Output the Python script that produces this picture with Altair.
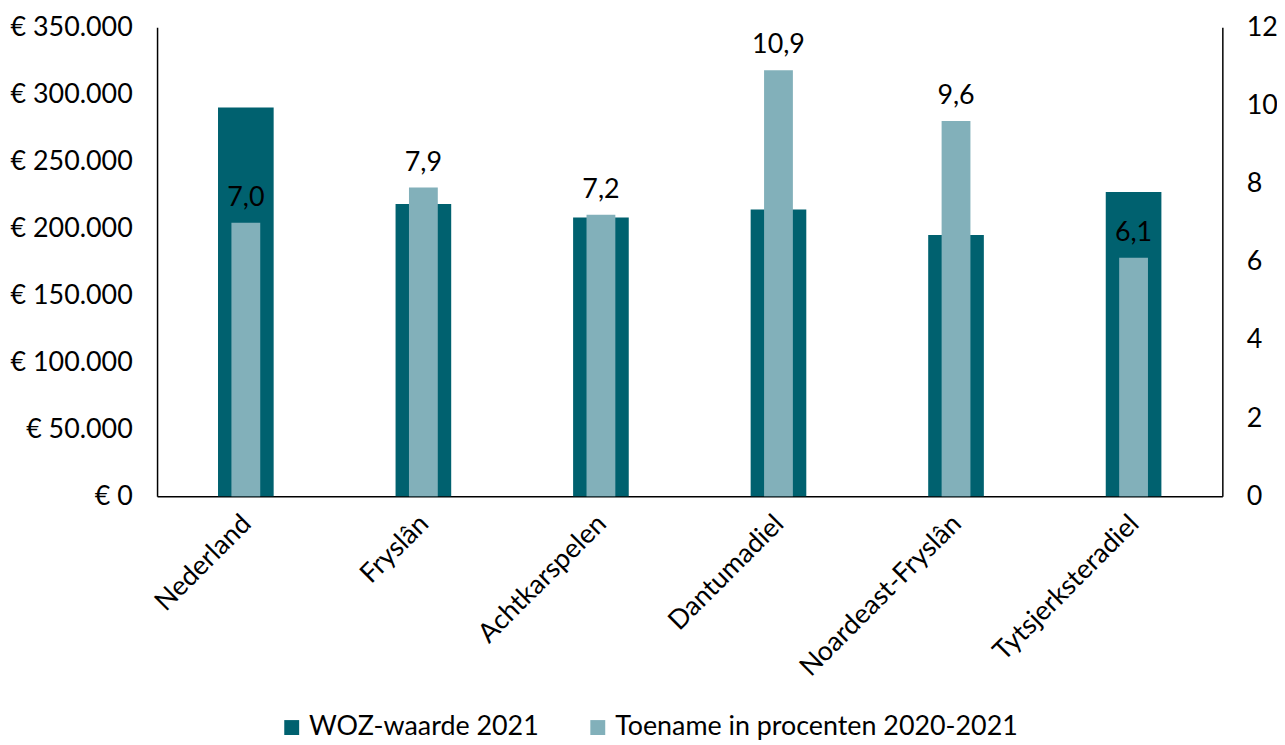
import altair as alt
import pandas as pd

categories = ["Nederland", "Fryslân", "Achtkarspelen", "Dantumadiel", "Noardeast-Fryslân", "Tytsjerksteradiel"]
woz_2021 = [290000, 218000, 208000, 214000, 195000, 227000]
toename_pct = [7.0, 7.9, 7.2, 10.9, 9.6, 6.1]
toename_labels = ["7,0", "7,9", "7,2", "10,9", "9,6", "6,1"]

series_names = ["WOZ-waarde 2021", "Toename in procenten 2020-2021"]
colors = ["#00616F", "#82B0BA"]
left_ticks = [0, 50000, 100000, 150000, 200000, 250000, 300000, 350000]
right_ticks = [0, 2, 4, 6, 8, 10, 12]

df = pd.DataFrame({
    "cat": categories,
    "woz": woz_2021,
    "pct": toename_pct,
    "lbl": toename_labels,
})

FONT = "Lato"
FS = 27

x_enc = alt.X("cat:N", sort=categories, title=None,
              scale=alt.Scale(paddingInner=0, paddingOuter=0),
              axis=alt.Axis(labelAngle=-45, labelAlign="right", labelBaseline="top",
                            labelPadding=14, labelOffset=-8, ticks=False, domainColor="black",
                            domainWidth=1.5, labelFontSize=FS, labelColor="black",
                            labelFont=FONT, labelLimit=0))

color_scale = alt.Scale(domain=series_names, range=colors)

right_y = alt.Y("pct:Q", title=None,
                scale=alt.Scale(domain=[0, 12], nice=False),
                axis=alt.Axis(orient="right", values=right_ticks, grid=False, ticks=False,
                              labelPadding=24, domainColor="black", domainWidth=1.5,
                              labelFontSize=FS, labelColor="black", labelFont=FONT))

dark = alt.Chart(df).mark_bar(size=56).encode(
    x=x_enc,
    y=alt.Y("woz:Q", title=None,
            scale=alt.Scale(domain=[0, 350000], nice=False),
            axis=alt.Axis(orient="left", values=left_ticks, grid=False, ticks=False,
                          labelPadding=25, domainColor="black", domainWidth=1.5,
                          labelFontSize=FS, labelColor="black", labelFont=FONT,
                          labelExpr="'€ ' + replace(format(datum.value, ',.0f'), ',', '.')")),
    color=alt.Color("s:N", scale=color_scale,
                    legend=alt.Legend(title=None, orient="none", direction="horizontal",
                                      legendX=122, legendY=691, symbolType="square",
                                      symbolSize=225, symbolStrokeWidth=0,
                                      labelFontSize=FS, labelFont=FONT, labelColor="black",
                                      labelLimit=0, columnPadding=45, labelOffset=4,
                                      padding=0)),
).transform_calculate(s="'WOZ-waarde 2021'")

light = alt.Chart(df).mark_bar(size=29).encode(
    x=alt.X("cat:N", sort=categories),
    y=right_y,
    color=alt.Color("s:N", scale=color_scale),
).transform_calculate(s="'Toename in procenten 2020-2021'")

text = alt.Chart(df).mark_text(baseline="alphabetic", dy=-17, fontSize=FS, font=FONT,
                               color="black").encode(
    x=alt.X("cat:N", sort=categories),
    y=right_y,
    text="lbl:N",
)

right_layer = alt.layer(light, text)

chart = alt.layer(dark, right_layer).resolve_scale(y="independent").properties(
    width=1072, height=472,
    autosize=alt.AutoSizeParams(type="none"),
    padding={"left": 150, "top": 17, "right": 55, "bottom": 248},
).configure(font=FONT).configure_view(stroke=None)

chart.save("out.html", embed_options={"renderer": "svg", "actions": False})
